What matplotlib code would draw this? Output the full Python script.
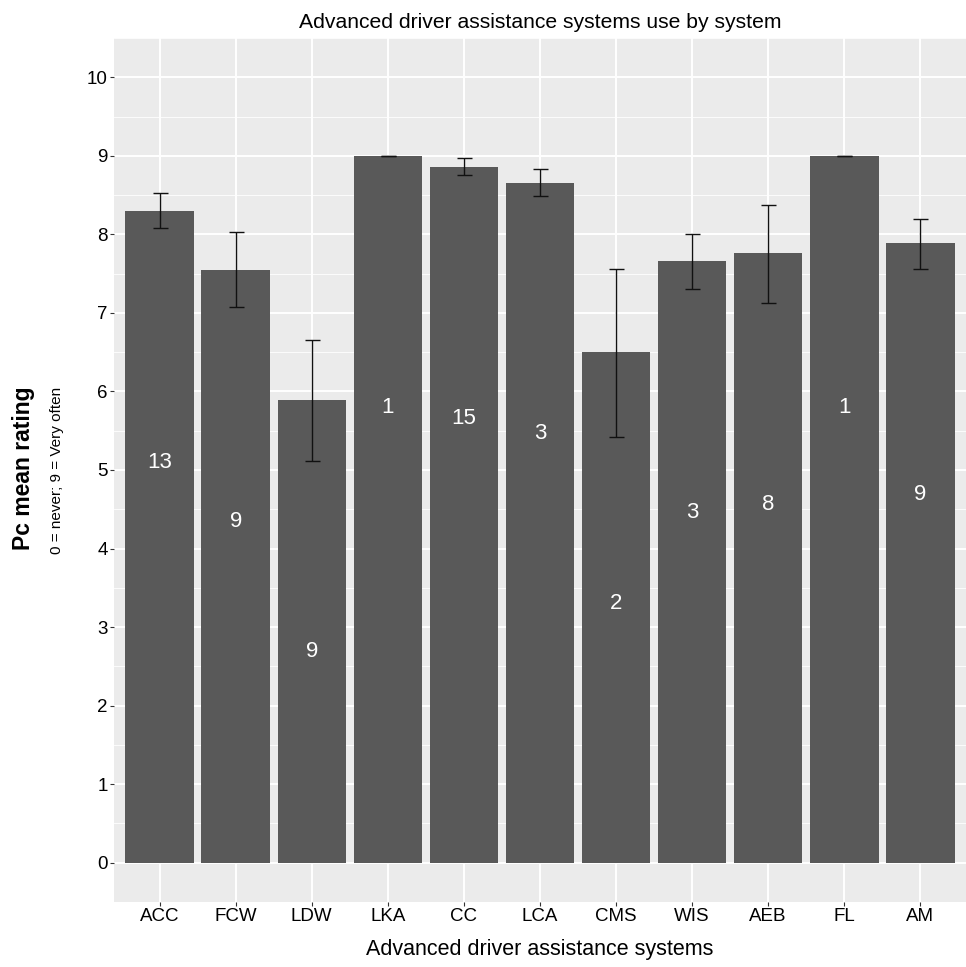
import numpy as np
import matplotlib
matplotlib.use('Agg')
import matplotlib.pyplot as plt

plt.rcParams['font.family'] = ['Liberation Sans', 'DejaVu Sans']

# data
systems = ['ACC', 'FCW', 'LDW', 'LKA', 'CC', 'LCA', 'CMS', 'WIS', 'AEB', 'FL', 'AM']
means = [8.30, 7.55, 5.89, 9.00, 8.86, 8.66, 6.50, 7.66, 7.76, 9.00, 7.89]
err_lo = [8.08, 7.07, 5.11, 9.00, 8.75, 8.49, 5.42, 7.31, 7.12, 9.00, 7.56]
err_hi = [8.53, 8.03, 6.66, 9.00, 8.97, 8.83, 7.56, 8.01, 8.37, 9.00, 8.20]
counts = [13, 9, 9, 1, 15, 3, 2, 3, 8, 1, 9]

means = np.array(means)
x = np.arange(1, len(systems) + 1)

W, H = 966, 967
fig = plt.figure(figsize=(W / 100, H / 100), dpi=100)
# panel box in pixels: left 114, right 966, top 38, bottom 902
ax = fig.add_axes([114 / W, 1 - 902 / H, (966 - 114) / W, (902 - 38) / H])
ax.set_facecolor('#EBEBEB')

ax.bar(x, means, width=0.9, color='#595959', zorder=3)
ax.errorbar(x, means, yerr=[means - np.array(err_lo), np.array(err_hi) - means],
            fmt='none', ecolor='#111111', elinewidth=1.0, capsize=5.4, capthick=1.0, zorder=4)

# count labels sit a fixed distance below the bar top
for xi, m, c in zip(x, means, counts):
    ax.text(xi, m - 3.2, str(c), color='white', fontsize=16, ha='center', va='center', zorder=5)

ax.set_xlim(0.4, 11.6)
ax.set_ylim(-0.5, 10.5)
ax.set_xticks(x)
ax.set_xticklabels(systems, fontsize=13.5)
ax.set_yticks(np.arange(0, 11, 1))
ax.set_yticklabels([str(v) for v in range(11)], fontsize=13.5)
ax.set_yticks(np.arange(-0.5, 10.6, 1), minor=True)
ax.grid(which='major', color='white', linewidth=1.4, zorder=0)
ax.grid(which='minor', axis='y', color='white', linewidth=0.6, zorder=0)
ax.set_axisbelow(True)
ax.tick_params(which='major', length=3, width=0.8, color='#333333', labelcolor='black', pad=1.5)
ax.tick_params(which='minor', length=0)
for s in ax.spines.values():
    s.set_visible(False)

fig.text(540 / W, 1 - 23 / H, 'Advanced driver assistance systems use by system',
         fontsize=15.2, ha='center', va='center')
fig.text(540 / W, 1 - 950 / H, 'Advanced driver assistance systems',
         fontsize=15.5, ha='center', va='center')
fig.text(24 / W, 1 - 468 / H, 'Pc mean rating', rotation=90, fontsize=16.5, fontweight='bold',
         ha='center', va='center')
fig.text(57 / W, 1 - 470 / H, '0 = never; 9 = Very often', rotation=90, fontsize=11,
         ha='center', va='center')

fig.savefig('out.png', dpi=100)
